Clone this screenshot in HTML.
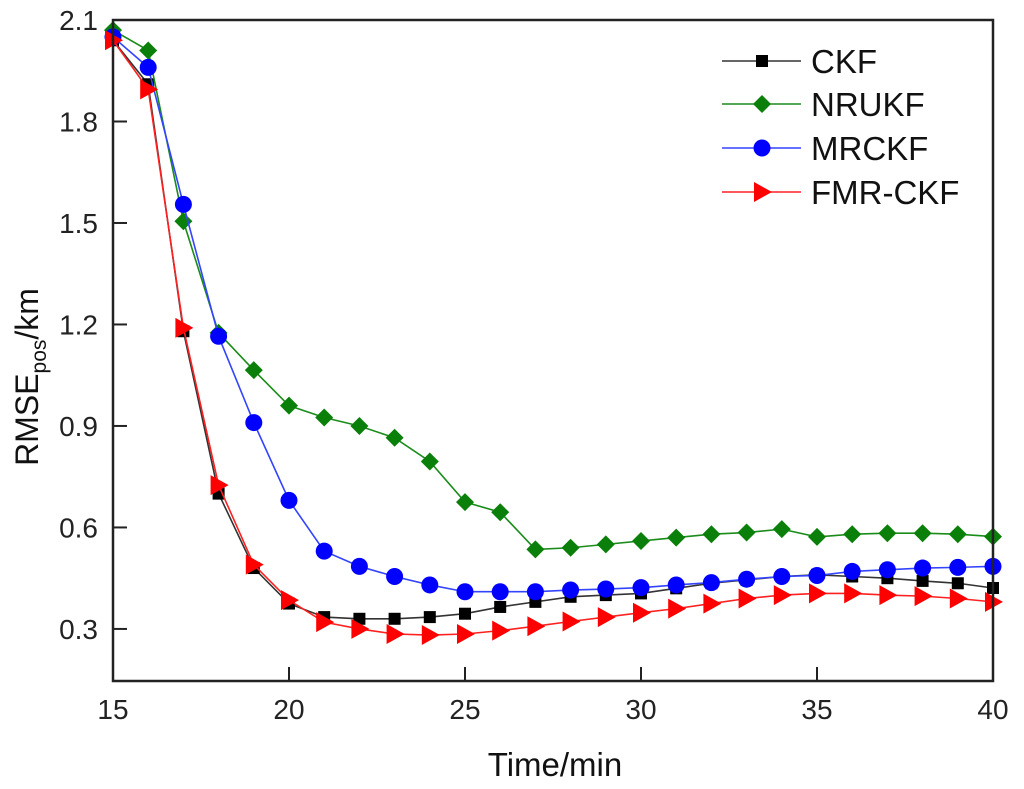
<!DOCTYPE html>
<html><head><meta charset="utf-8"><style>
html,body{margin:0;padding:0;background:#fff;}
svg{display:block;font-family:"Liberation Sans",Arial,sans-serif;}
</style></head><body>
<svg id="chart" width="1024" height="789" viewBox="0 0 1024 789">
<g id="marks"></g>
<rect x="113" y="20" width="880" height="661" fill="none" stroke="#222" stroke-width="2.5"/>
<g id="axes"></g>
<text x="555" y="776" font-size="33" text-anchor="middle" fill="#111">Time/min</text>
<text transform="translate(38,377) rotate(-90)" font-size="32" text-anchor="middle" fill="#111">RMSE<tspan font-size="21" dy="8">pos</tspan><tspan dy="-8">/km</tspan></text>
<g id="legend"></g>
</svg>
<script>
const xs = [15,16,17,18,19,20,21,22,23,24,25,26,27,28,29,30,31,32,33,34,35,36,37,38,39,40];
const ckf = [2.04,1.91,1.18,0.70,0.48,0.375,0.335,0.33,0.33,0.335,0.345,0.365,0.38,0.395,0.40,0.405,0.42,0.435,0.445,0.455,0.46,0.455,0.45,0.442,0.435,0.421];
const nrukf = [2.07,2.01,1.505,1.175,1.065,0.96,0.925,0.90,0.865,0.795,0.675,0.645,0.535,0.54,0.55,0.56,0.57,0.58,0.585,0.595,0.572,0.58,0.583,0.583,0.58,0.573];
const mrckf = [2.05,1.96,1.555,1.165,0.91,0.68,0.53,0.485,0.455,0.43,0.41,0.41,0.41,0.415,0.418,0.422,0.43,0.437,0.447,0.455,0.458,0.47,0.475,0.48,0.482,0.485];
const fmrckf = [2.04,1.895,1.19,0.725,0.49,0.385,0.32,0.30,0.285,0.282,0.285,0.295,0.308,0.322,0.335,0.348,0.36,0.375,0.39,0.40,0.405,0.405,0.40,0.397,0.39,0.38];
const xTicks = [15,20,25,30,35,40];
const yTicks = [0.3,0.6,0.9,1.2,1.5,1.8,2.1];
const yTickLabels = ["0.3","0.6","0.9","1.2","1.5","1.8","2.1"];
const seriesNames = ["CKF","NRUKF","MRCKF","FMR-CKF"];

const NS="http://www.w3.org/2000/svg";
const L=113,R=993,T=20,B=681,XMIN=15,XMAX=40,YMIN=0.1461,YMAX=2.1;
function sx(v){return L+(v-XMIN)/(XMAX-XMIN)*(R-L);}
function sy(v){return B-(v-YMIN)/(YMAX-YMIN)*(B-T);}
function mk(tag,attrs,parent){const e=document.createElementNS(NS,tag);for(const k in attrs)e.setAttribute(k,attrs[k]);parent.appendChild(e);return e;}

const axes=document.getElementById('axes');
xTicks.forEach(t=>{
  const ln=mk('line',{x1:sx(t),x2:sx(t),y1:B,y2:B-14,stroke:'#222','stroke-width':2},axes);
  
  
  const tx=mk('text',{x:sx(t),y:B+38,'font-size':28,'text-anchor':'middle',fill:'#222'},axes);
  tx.textContent=t;
  
  
});
yTicks.forEach((t,i)=>{
  const ln=mk('line',{x1:L,x2:L+14,y1:sy(t),y2:sy(t),stroke:'#222','stroke-width':2},axes);
  
  
  const tx=mk('text',{x:L-15,y:sy(t)+10,'font-size':28,'text-anchor':'end',fill:'#222'},axes);
  tx.textContent=yTickLabels[i];
  
  
});

function marker(type,x,y,color,parent){
  let e;
  if(type==='square') e=mk('rect',{x:x-6,y:y-6,width:12,height:12,fill:color},parent);
  else if(type==='diamond') e=mk('polygon',{points:`${x},${y-9} ${x+9},${y} ${x},${y+9} ${x-9},${y}`,fill:color},parent);
  else if(type==='circle') e=mk('circle',{cx:x,cy:y,r:8.5,fill:color},parent);
  else e=mk('polygon',{points:`${x-8},${y-10} ${x+10},${y} ${x-8},${y+10}`,fill:color},parent);
  return e;
}
const series=[
  {vals:ckf,color:'#000',line:'#333',m:'square',key:'ckf'},
  {vals:nrukf,color:'#0a800a',line:'#1a8c1a',m:'diamond',key:'nrukf'},
  {vals:mrckf,color:'#0000ff',line:'#3344ff',m:'circle',key:'mrckf'},
  {vals:fmrckf,color:'#ff0000',line:'#ff2020',m:'triangle',key:'fmrckf'}
];
const marks=document.getElementById('marks');
series.forEach(s=>{
  const g=mk('g',{},marks);
  
  
  const pts=xs.map((x,i)=>sx(x)+','+sy(s.vals[i])).join(' ');
  const pl=mk('polyline',{points:pts,fill:'none',stroke:s.line,'stroke-width':1.6},g);
  
  
  xs.forEach((x,i)=>{
    const e=marker(s.m,sx(x),sy(s.vals[i]),s.color,g);
    
    
  });
});
const leg=document.getElementById('legend');
const legY=[61,104,148,192];
series.forEach((s,i)=>{
  const g=mk('g',{},leg);
  
  
  mk('line',{x1:722,x2:801,y1:legY[i],y2:legY[i],stroke:s.line,'stroke-width':1.6},g);
  marker(s.m,762,legY[i],s.color,g);
  const t=mk('text',{x:811,y:legY[i]+12,'font-size':33,fill:'#111'},g);
  t.textContent=seriesNames[i];
});
</script>
</body></html>
